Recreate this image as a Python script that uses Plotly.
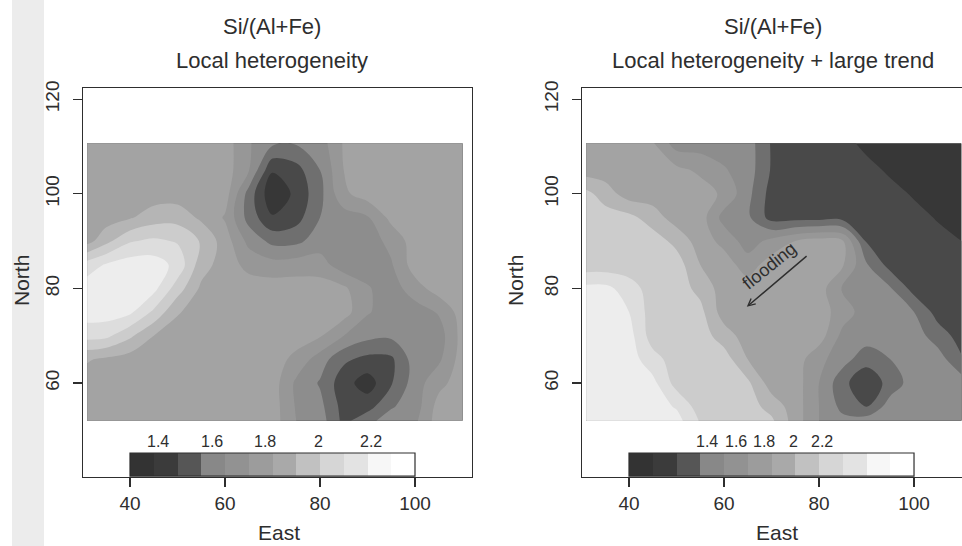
import plotly.graph_objects as go

# ---------------- data ----------------
EAST = [31, 35, 40, 45, 50, 55, 60, 65, 70, 75, 80, 85, 90, 95, 100, 105, 110]
NORTH = [52, 55, 60, 65, 70, 75, 80, 85, 90, 95, 100, 105, 110.7]

# grey-level class (legend block units) at each grid node, rows follow NORTH
LOCAL = [
    [6.5, 6.5, 6.5, 6.5, 6.5, 6.5, 6.5, 6.5, 6.5, 5.0, 4.5, 2.7, 3.7, 4.5, 4.8, 6.5, 6.5],
    [6.5, 6.5, 6.5, 6.5, 6.5, 6.5, 6.5, 6.5, 6.5, 4.9, 4.3, 2.6, 2.6, 3.9, 4.5, 6.4, 6.5],
    [6.5, 6.5, 6.5, 6.5, 6.5, 6.5, 6.5, 6.5, 6.5, 4.8, 3.9, 2.4, 1.5, 2.9, 4.5, 5.7, 6.5],
    [7.1, 6.8, 6.5, 6.5, 6.5, 6.5, 6.5, 6.5, 6.5, 5.7, 4.5, 3.2, 2.7, 2.8, 4.5, 4.8, 6.5],
    [9.4, 9.25, 8.2, 7.0, 6.5, 6.5, 6.5, 6.5, 6.5, 6.5, 6.1, 5.0, 4.3, 4.2, 4.5, 4.5, 6.4],
    [10.5, 10.5, 10.2, 8.8, 7.1, 6.5, 6.5, 6.5, 6.5, 6.5, 6.5, 6.45, 5.1, 4.5, 4.5, 5.1, 6.5],
    [10.5, 10.5, 10.5, 10.3, 8.5, 6.8, 6.5, 6.5, 6.5, 6.5, 6.5, 6.2, 5.1, 4.5, 5.55, 6.5, 6.5],
    [9.5, 10.1, 10.5, 10.5, 9.7, 7.45, 6.5, 5.7, 5.4, 5.5, 5.45, 4.4, 4.5, 4.9, 6.5, 6.5, 6.5],
    [6.6, 7.7, 8.9, 9.2, 8.9, 7.9, 6.5, 4.7, 3.7, 3.75, 4.5, 4.5, 4.5, 5.3, 6.5, 6.5, 6.5],
    [6.5, 6.5, 6.9, 7.5, 7.6, 6.8, 5.9, 3.6, 2.1, 2.6, 4.0, 4.5, 4.9, 6.3, 6.5, 6.5, 6.5],
    [6.5, 6.5, 6.5, 6.5, 6.5, 6.5, 6.5, 3.6, 1.2, 2.25, 3.7, 5.8, 6.5, 6.5, 6.5, 6.5, 6.5],
    [6.5, 6.5, 6.5, 6.5, 6.5, 6.5, 6.5, 5.06, 2.1, 2.6, 4.0, 6.0, 6.5, 6.5, 6.5, 6.5, 6.5],
    [6.5, 6.5, 6.5, 6.5, 6.5, 6.5, 6.5, 5.1, 4.2, 4.1, 4.5, 6.1, 6.5, 6.5, 6.5, 6.5, 6.5],
]

TREND = [
    [10.5, 10.5, 10.5, 10.5, 10.4, 8.9, 8.5, 8.5, 8.2, 6.5, 5.0, 4.3, 4.5, 4.5, 4.5, 4.5, 4.5],
    [10.5, 10.5, 10.5, 10.5, 9.9, 8.5, 8.5, 8.5, 7.6, 6.5, 5.0, 3.7, 3.0, 4.5, 4.5, 4.5, 4.5],
    [10.5, 10.5, 10.5, 10.3, 8.6, 8.5, 8.5, 8.2, 6.5, 6.5, 5.0, 3.3, 2.2, 3.4, 4.5, 4.5, 4.5],
    [10.5, 10.5, 10.5, 9.4, 8.5, 8.5, 8.5, 7.0, 6.5, 6.5, 5.3, 4.4, 3.4, 4.0, 4.5, 4.5, 3.1],
    [10.5, 10.5, 10.4, 8.5, 8.5, 8.5, 7.5, 6.5, 6.5, 6.5, 6.5, 4.7, 4.5, 4.5, 4.5, 3.5, 2.6],
    [10.5, 10.5, 10.0, 8.5, 8.5, 8.3, 6.5, 6.5, 6.5, 6.5, 6.5, 5.5, 4.5, 4.5, 4.0, 2.6, 2.6],
    [10.3, 10.3, 9.5, 8.5, 8.5, 7.7, 6.5, 6.5, 6.5, 6.5, 6.5, 4.85, 4.5, 4.1, 2.6, 2.6, 2.6],
    [8.4, 8.4, 8.4, 8.5, 8.5, 7.0, 6.5, 5.5, 6.5, 6.5, 6.5, 6.1, 4.1, 2.6, 2.6, 2.6, 2.6],
    [8.5, 8.5, 8.5, 8.5, 7.7, 6.5, 5.7, 4.5, 5.3, 6.0, 6.4, 6.1, 2.9, 2.6, 2.6, 2.6, 2.0],
    [8.5, 8.5, 8.3, 7.5, 6.5, 6.5, 4.6, 4.2, 2.6, 2.6, 2.6, 2.6, 2.6, 2.6, 2.6, 1.85, 1.3],
    [8.3, 7.5, 6.5, 6.5, 6.5, 6.5, 5.8, 4.3, 2.6, 2.6, 2.6, 2.6, 2.6, 2.6, 1.8, 1.3, 1.3],
    [6.5, 6.5, 6.5, 6.5, 6.3, 5.8, 5.1, 4.5, 2.9, 2.6, 2.6, 2.6, 2.6, 1.7, 1.3, 1.3, 1.3],
    [6.5, 6.5, 6.5, 6.1, 4.5, 4.5, 4.5, 4.5, 2.9, 2.6, 2.6, 2.6, 1.5, 1.3, 1.3, 1.3, 1.3],
]

# 12 grey classes of the legend strip (darkest -> white)
PALETTE = ["#333333", "#3b3b3b", "#565656", "#888888", "#929292", "#9c9c9c",
           "#a9a9a9", "#c1c1c1", "#d6d6d6", "#e3e3e3", "#f7f7f7", "#ffffff"]
LEGEND_CLASSES = list(range(12))
LEGEND_EAST_EDGES = [40, 45, 50, 55, 60, 65, 70, 75, 80, 85, 90, 95, 100]
LEGEND_NORTH_EDGES = [40.3, 45.2]
LEGEND_LABEL_NORTH = 47.6
LEG_VALUES = [1.4, 1.6, 1.8, 2.0, 2.2]
LEG_TEXT = ["1.4", "1.6", "1.8", "2", "2.2"]
LEFT_LEG_RANGE = [1.293, 2.364]   # value span of legend strip (East 40..100)
RIGHT_LEG_RANGE = [0.858, 2.842]

X_TICKS = [40, 60, 80, 100]
Y_TICKS = [60, 80, 100, 120]

FLOOD_TEXT_POS = (69.5, 84.7)
FLOOD_ARROW_TAIL = (77.7, 87.1)
FLOOD_ARROW_TIP = (64.8, 76.1)

# ---------------- styling ----------------
W, H = 962, 546
FONT = "Liberation Sans, Arial, Helvetica, sans-serif"
INK = "#2e2e2e"

nlev = 11
contour_scale = [[0.0, PALETTE[0]]]
for k in range(11):
    contour_scale.append([(k + 0.5) / nlev, PALETTE[k]])
contour_scale.append([1.0, PALETTE[10]])

legend_scale = []
for k, c in enumerate(PALETTE):
    legend_scale.append([k / 12, c])
    legend_scale.append([(k + 1) / 12, c])


def px2paper_x(px):
    return px / W


def py2paper_y(py):
    return 1 - py / H


fig = go.Figure()

for z, xa, ya in [(LOCAL, "x", "y"), (TREND, "x2", "y2")]:
    fig.add_trace(go.Contour(
        x=EAST, y=NORTH, z=z, xaxis=xa, yaxis=ya,
        autocontour=False,
        contours=dict(start=1, end=11, size=1, coloring="fill", showlines=False),
        line=dict(width=0, smoothing=1),
        colorscale=contour_scale, showscale=False, hoverinfo="skip",
    ))
    fig.add_trace(go.Heatmap(
        x=LEGEND_EAST_EDGES, y=LEGEND_NORTH_EDGES, z=[LEGEND_CLASSES],
        xaxis=xa, yaxis=ya, zmin=-0.5, zmax=11.5,
        colorscale=legend_scale, showscale=False, hoverinfo="skip",
    ))

axis_common = dict(
    showgrid=False, zeroline=False, showline=True, linecolor=INK, linewidth=1.3,
    ticks="outside", ticklen=9, tickwidth=1.2, tickcolor=INK,
    tickfont=dict(family=FONT, size=19, color=INK),
)
y0, y1 = py2paper_y(477), py2paper_y(88)
fig.update_layout(
    width=W, height=H, margin=dict(l=0, r=0, t=0, b=0, autoexpand=False),
    paper_bgcolor="white", plot_bgcolor="white", showlegend=False,
    xaxis=dict(domain=[83 / W, 472 / W], range=[30.105, 112.0], tickvals=X_TICKS,
               mirror=True, anchor="y", ticklabelstandoff=0, **axis_common),
    yaxis=dict(domain=[y0, y1], range=[40.13, 122.37], tickvals=Y_TICKS,
               tickangle=-90, mirror=True, anchor="x", ticklabelstandoff=6, **axis_common),
    xaxis2=dict(domain=[582 / W, 1.0], range=[30.105, 110.1], tickvals=X_TICKS,
                mirror=True, anchor="y2", ticklabelstandoff=0, **axis_common),
    yaxis2=dict(domain=[y0, y1], range=[40.13, 122.37], tickvals=Y_TICKS,
                tickangle=-90, mirror=False, anchor="x2", ticklabelstandoff=6, **axis_common),
)

shapes = [
    dict(type="rect", xref="paper", yref="paper", x0=12 / W, x1=44 / W, y0=0, y1=1,
         fillcolor="#ececec", line=dict(width=0), layer="below"),
]
for xr, yr in [("x", "y"), ("x2", "y2")]:
    shapes.append(dict(type="rect", xref=xr, yref=yr,
                       x0=LEGEND_EAST_EDGES[0], x1=LEGEND_EAST_EDGES[-1],
                       y0=LEGEND_NORTH_EDGES[0], y1=LEGEND_NORTH_EDGES[1],
                       line=dict(color=INK, width=1.2)))
fig.update_layout(shapes=shapes)

ann = []


def txt(text, px, py, size, angle=0, yanchor="middle"):
    ann.append(dict(text=text, x=px2paper_x(px), y=py2paper_y(py), xref="paper", yref="paper",
                    showarrow=False, xanchor="center", yanchor=yanchor, textangle=angle,
                    font=dict(family=FONT, size=size, color=INK)))


txt("Si/(Al+Fe)", 272, 26, 22)
txt("Local heterogeneity", 272, 60, 22)
txt("Si/(Al+Fe)", 773, 26, 22)
txt("Local heterogeneity + large trend", 773, 60, 22)
txt("East", 279, 546, 21, yanchor="bottom")
txt("East", 777, 546, 21, yanchor="bottom")
txt("North", 21, 281, 21, -90)
txt("North", 515, 281, 21, -90)

for rng, xr, yr in [(LEFT_LEG_RANGE, "x", "y"), (RIGHT_LEG_RANGE, "x2", "y2")]:
    lo, hi = rng
    for v, t in zip(LEG_VALUES, LEG_TEXT):
        xe = LEGEND_EAST_EDGES[0] + (v - lo) / (hi - lo) * (LEGEND_EAST_EDGES[-1] - LEGEND_EAST_EDGES[0])
        ann.append(dict(text=t, x=xe, y=LEGEND_LABEL_NORTH, xref=xr, yref=yr, showarrow=False,
                        xanchor="center", yanchor="middle",
                        font=dict(family=FONT, size=16, color=INK)))

ann.append(dict(text="flooding", x=FLOOD_TEXT_POS[0], y=FLOOD_TEXT_POS[1], xref="x2", yref="y2",
                showarrow=False, textangle=-39, font=dict(family=FONT, size=18, color=INK)))
ann.append(dict(text="", x=FLOOD_ARROW_TIP[0], y=FLOOD_ARROW_TIP[1], xref="x2", yref="y2",
                ax=FLOOD_ARROW_TAIL[0], ay=FLOOD_ARROW_TAIL[1], axref="x2", ayref="y2",
                showarrow=True, arrowhead=5, arrowsize=1, arrowwidth=1.4, arrowcolor=INK))
fig.update_layout(annotations=ann)

fig.write_html(
    "out.html",
    config={"displayModeBar": False, "staticPlot": True},
    post_script="document.body.style.margin='0px';document.body.style.padding='0px';"
                "document.documentElement.style.overflow='hidden';",
)
